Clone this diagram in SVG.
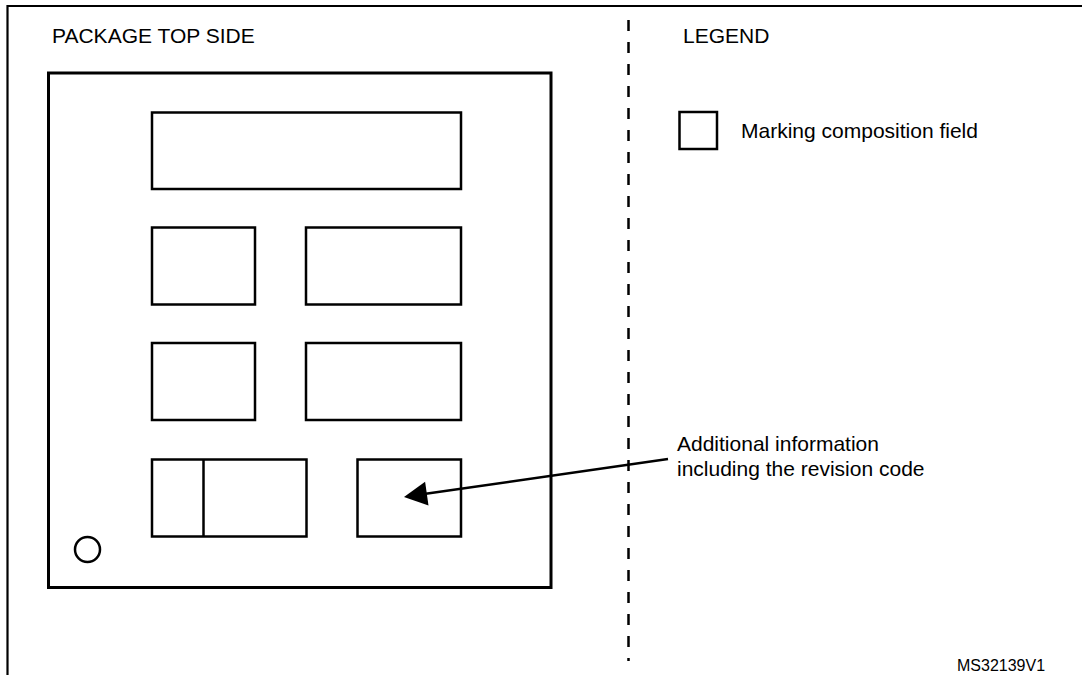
<svg xmlns="http://www.w3.org/2000/svg" width="1082" height="675" viewBox="0 0 1082 675">
  <style>
    .frame { fill: none; stroke: #000; stroke-width: 2.2; }
    .pkg { fill: none; stroke: #000; stroke-width: 3; }
    .field { fill: none; stroke: #000; stroke-width: 2.5; }
    .label { font-family: "Liberation Sans", Arial, sans-serif; font-size: 21px; fill: #000; }
    .code { font-family: "Liberation Sans", Arial, sans-serif; font-size: 16px; fill: #000; }
    .sep { stroke: #000; stroke-width: 2.5; stroke-dasharray: 11 11; fill: none; }
    .lead { stroke: #000; stroke-width: 2.5; fill: none; }
  </style>
  <rect width="1082" height="675" fill="#fff"/>

  <!-- outer frame: top and left edges -->
  <path class="frame" d="M7.5,675 V6 H1082"/>

  <!-- divider between package view and legend -->
  <line class="sep" x1="628.5" y1="20" x2="628.5" y2="661"/>

  <text class="label" x="52" y="43">PACKAGE TOP SIDE</text>
  <text class="label" x="683" y="43">LEGEND</text>

  <!-- package outline with marking fields -->
  <g id="package">
    <rect class="pkg" x="48.5" y="73" width="502.5" height="514.5"/>
    <circle class="field" cx="87.5" cy="549.5" r="12.5"/>
  </g>
  <g id="field-line1"><rect class="field" x="152" y="112.5" width="309" height="76.5"/></g>
  <g id="field-line2a"><rect class="field" x="152" y="227.5" width="103" height="77"/></g>
  <g id="field-line2b"><rect class="field" x="306" y="227.5" width="155" height="77"/></g>
  <g id="field-line3a"><rect class="field" x="152" y="343" width="103" height="77"/></g>
  <g id="field-line3b"><rect class="field" x="306" y="343" width="155" height="77"/></g>
  <g id="field-line4a">
    <rect class="field" x="152" y="459.5" width="154.5" height="77"/>
    <line class="field" x1="203.5" y1="459.5" x2="203.5" y2="536.5"/>
  </g>
  <g id="field-revision"><rect class="field" x="357.5" y="459.5" width="103.5" height="77"/></g>

  <!-- legend -->
  <g id="legend-key">
    <rect class="field" x="679.5" y="112" width="37.5" height="37"/>
    <text class="label" x="741" y="138">Marking composition field</text>
  </g>

  <g id="note-revision">
    <text class="label" x="677" y="451">Additional information</text>
    <text class="label" x="677" y="476">including the revision code</text>
  </g>

  <g id="connectors">
    <line class="lead" x1="668" y1="459" x2="424" y2="494"/>
    <polygon points="404,497 425.1,481.8 428.5,505.6" fill="#000"/>
  </g>

  <text class="code" x="957" y="671">MS32139V1</text>
</svg>
